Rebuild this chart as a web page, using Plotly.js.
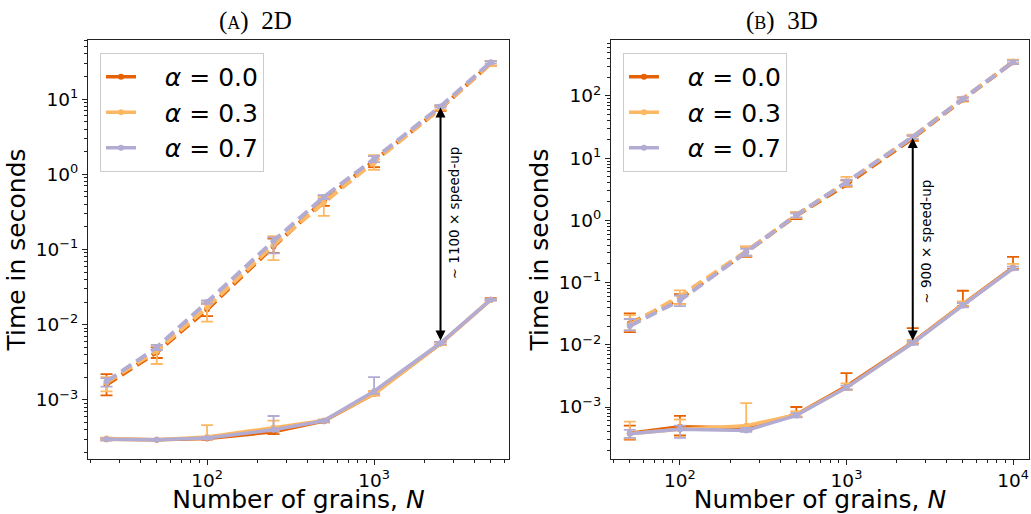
<!DOCTYPE html>
<html><head><meta charset="utf-8">
<script src="https://cdn.plot.ly/plotly-3.0.1.min.js"></script>
<style>html,body{margin:0;padding:0;background:#fff}#chart{width:1031px;height:514px}</style>
</head><body><div id="chart"></div>
<script>
// ---------- data ----------
const alphaLabels = ['0.0', '0.3', '0.7'];
const colors = ['#e66101', '#fdb863', '#b2abd2'];
const panelTitles = ['(<span style="font-size:18px">A</span>)\u00a0\u00a02D', '(<span style="font-size:18px">B</span>)\u00a0\u00a03D'];
const speedupTexts = ['∼ 1100 × speed-up', '∼ 900 × speed-up'];
const speedupN = 2500;

const N2D = [25, 50, 100, 250, 500, 1000, 2500, 5000];
const N3D = [50, 100, 250, 500, 1000, 2500, 5000, 10000];

// 2D, reference (slow, dashed) method
const slow2D_a00    = [1.6e-3, 4.3e-3, 0.016, 0.11, 0.45, 1.5, 7.5, 30];
const slow2D_a00_hi = [2.2e-3, 5.0e-3, 0.019, 0.14, 0.52, 1.75, 8.2, 32];
const slow2D_a00_lo = [1.15e-3, 3.6e-3, 0.013, 0.09, 0.38, 1.25, 7.0, 28];
const slow2D_a03    = [1.7e-3, 4.5e-3, 0.017, 0.115, 0.42, 1.45, 7.6, 30];
const slow2D_a03_hi = [2.0e-3, 5.3e-3, 0.020, 0.15, 0.50, 1.8, 8.0, 32];
const slow2D_a03_lo = [1.3e-3, 3.0e-3, 0.011, 0.072, 0.28, 1.15, 7.2, 28];
const slow2D_a07    = [1.75e-3, 5.0e-3, 0.020, 0.13, 0.50, 1.6, 8.0, 31];
const slow2D_a07_hi = [1.95e-3, 5.4e-3, 0.021, 0.145, 0.53, 1.75, 8.3, 32];
const slow2D_a07_lo = [1.5e-3, 4.6e-3, 0.019, 0.089, 0.47, 1.45, 7.7, 30];

// 2D, new (fast, solid) method
const fast2D_a00    = [3.0e-4, 2.95e-4, 3.05e-4, 3.75e-4, 5.2e-4, 1.2e-3, 5.6e-3, 0.0215];
const fast2D_a00_hi = [3.1e-4, 3.0e-4, 3.2e-4, 4.1e-4, 5.4e-4, 1.3e-3, 5.9e-3, 0.0225];
const fast2D_a00_lo = [2.9e-4, 2.9e-4, 2.95e-4, 3.5e-4, 5.0e-4, 1.15e-3, 5.4e-3, 0.021];
const fast2D_a03    = [3.05e-4, 2.95e-4, 3.2e-4, 4.3e-4, 5.3e-4, 1.2e-3, 5.6e-3, 0.0215];
const fast2D_a03_hi = [3.15e-4, 3.0e-4, 4.6e-4, 5.3e-4, 5.5e-4, 1.3e-3, 5.8e-3, 0.022];
const fast2D_a03_lo = [2.95e-4, 2.9e-4, 3.0e-4, 3.9e-4, 5.1e-4, 1.15e-3, 5.4e-3, 0.021];
const fast2D_a07    = [3.0e-4, 2.95e-4, 3.1e-4, 4.0e-4, 5.25e-4, 1.3e-3, 5.7e-3, 0.0215];
const fast2D_a07_hi = [3.1e-4, 3.0e-4, 3.2e-4, 6.1e-4, 5.4e-4, 2.0e-3, 5.9e-3, 0.022];
const fast2D_a07_lo = [2.9e-4, 2.9e-4, 3.0e-4, 3.8e-4, 5.1e-4, 1.2e-3, 5.5e-3, 0.021];

// 3D, reference (slow, dashed) method
const slow3D_a00    = [0.022, 0.055, 0.31, 1.2, 3.8, 21, 88, 350];
const slow3D_a00_hi = [0.032, 0.065, 0.38, 1.35, 4.4, 23, 95, 380];
const slow3D_a00_lo = [0.016, 0.045, 0.26, 1.05, 3.5, 19, 82, 330];
const slow3D_a03    = [0.021, 0.06, 0.32, 1.22, 4.1, 22, 90, 355];
const slow3D_a03_hi = [0.030, 0.075, 0.38, 1.35, 5.0, 24, 96, 385];
const slow3D_a03_lo = [0.017, 0.045, 0.27, 1.1, 3.6, 20, 84, 335];
const slow3D_a07    = [0.020, 0.052, 0.31, 1.22, 4.1, 22, 90, 350];
const slow3D_a07_hi = [0.026, 0.062, 0.35, 1.3, 4.5, 23, 94, 370];
const slow3D_a07_lo = [0.017, 0.042, 0.27, 1.12, 3.7, 20.5, 85, 330];

// 3D, new (fast, solid) method
const fast3D_a00    = [3.8e-4, 4.8e-4, 4.6e-4, 7.6e-4, 2.15e-3, 0.011, 0.045, 0.175];
const fast3D_a00_hi = [5.0e-4, 7.2e-4, 5.0e-4, 1.0e-3, 3.5e-3, 0.0185, 0.074, 0.26];
const fast3D_a00_lo = [3.0e-4, 3.5e-4, 4.2e-4, 7.0e-4, 1.9e-3, 0.0105, 0.042, 0.165];
const fast3D_a03    = [3.7e-4, 4.4e-4, 5.0e-4, 7.5e-4, 2.05e-3, 0.0108, 0.044, 0.17];
const fast3D_a03_hi = [5.8e-4, 6.3e-4, 1.15e-3, 8.5e-4, 2.4e-3, 0.012, 0.05, 0.20];
const fast3D_a03_lo = [3.1e-4, 3.3e-4, 4.4e-4, 7.0e-4, 1.9e-3, 0.0102, 0.041, 0.16];
const fast3D_a07    = [3.7e-4, 4.4e-4, 4.2e-4, 7.3e-4, 2.05e-3, 0.0107, 0.043, 0.17];
const fast3D_a07_hi = [4.3e-4, 5.0e-4, 4.6e-4, 8.0e-4, 2.2e-3, 0.0115, 0.047, 0.18];
const fast3D_a07_lo = [3.2e-4, 3.2e-4, 4.0e-4, 6.8e-4, 1.9e-3, 0.0101, 0.040, 0.16];

const yTickExp2D = [-3, -2, -1, 0, 1];
const yTickExp3D = [-3, -2, -1, 0, 1, 2];
const xTickExp2D = [2, 3];
const xTickExp3D = [2, 3, 4];

// ---------- build ----------
const FONT = 'DejaVu Sans, sans-serif';
function sup(e) { return '10<sup>' + (e < 0 ? '\u2212' + (-e) : e) + '</sup>'; }
function minorVals(lo, hi) { const v = []; for (let e = lo; e <= hi; e++) for (let m = 2; m <= 9; m++) v.push(m * Math.pow(10, e)); return v; }

const panels = [
  { x: N2D, xa: 'x', ya: 'y', legend: 'legend',
    slow: [[slow2D_a00, slow2D_a00_hi, slow2D_a00_lo], [slow2D_a03, slow2D_a03_hi, slow2D_a03_lo], [slow2D_a07, slow2D_a07_hi, slow2D_a07_lo]],
    fast: [[fast2D_a00, fast2D_a00_hi, fast2D_a00_lo], [fast2D_a03, fast2D_a03_hi, fast2D_a03_lo], [fast2D_a07, fast2D_a07_hi, fast2D_a07_lo]] },
  { x: N3D, xa: 'x2', ya: 'y2', legend: 'legend2',
    slow: [[slow3D_a00, slow3D_a00_hi, slow3D_a00_lo], [slow3D_a03, slow3D_a03_hi, slow3D_a03_lo], [slow3D_a07, slow3D_a07_hi, slow3D_a07_lo]],
    fast: [[fast3D_a00, fast3D_a00_hi, fast3D_a00_lo], [fast3D_a03, fast3D_a03_hi, fast3D_a03_lo], [fast3D_a07, fast3D_a07_hi, fast3D_a07_lo]] }
];

function errObj(s, c) {
  return { type: 'data', symmetric: false,
    array: s[1].map((h, i) => h - s[0][i]), arrayminus: s[2].map((l, i) => s[0][i] - l),
    color: c, thickness: 1.8, width: 6 };
}

const traces = [];
panels.forEach(p => {
  for (let a = 0; a < 3; a++) {
    traces.push({ x: p.x, y: p.slow[a][0], xaxis: p.xa, yaxis: p.ya, mode: 'lines+markers', showlegend: false,
      line: { color: colors[a], width: 4, dash: '12px,6px' }, marker: { color: colors[a], size: 6 },
      error_y: errObj(p.slow[a], colors[a]) });
    traces.push({ x: p.x, y: p.fast[a][0], xaxis: p.xa, yaxis: p.ya, mode: 'lines+markers', legend: p.legend,
      name: '\u00a0\u00a0\u00a0<i>α</i> = ' + alphaLabels[a],
      line: { color: colors[a], width: 3.5 }, marker: { color: colors[a], size: 6 },
      error_y: errObj(p.fast[a], colors[a]) });
  }
});

function axisBase() {
  return { type: 'log', showline: true, mirror: true, linecolor: '#222', linewidth: 1, ticks: 'outside',
    ticklen: 5, tickcolor: '#222', showgrid: false, zeroline: false, tickmode: 'array',
    tickfont: { family: FONT, size: 18.5, color: '#000' } };
}
const axTitleFont = { family: FONT, size: 25, color: '#000' };

const xaxis = Object.assign(axisBase(), { domain: [0, 0.4474], range: [1.287, 3.808], anchor: 'y',
  tickvals: xTickExp2D.map(e => Math.pow(10, e)), ticktext: xTickExp2D.map(sup),
  minor: { tickmode: 'array', tickvals: minorVals(1, 3), ticks: 'outside', ticklen: 3, tickcolor: '#222', showgrid: false },
  title: { text: 'Number of grains, <i>N</i>', font: axTitleFont, standoff: 10 } });
const yaxis = Object.assign(axisBase(), { domain: [0, 1], range: [-3.787, 1.787], anchor: 'x',
  tickvals: yTickExp2D.map(e => Math.pow(10, e)), ticktext: yTickExp2D.map(sup),
  minor: { tickmode: 'array', tickvals: minorVals(-4, 1), ticks: 'outside', ticklen: 3, tickcolor: '#222', showgrid: false },
  title: { text: 'Time in seconds', font: axTitleFont, standoff: 2 } });
const xaxis2 = Object.assign(axisBase(), { domain: [0.5558, 1], range: [1.586, 4.096], anchor: 'y2',
  tickvals: xTickExp3D.map(e => Math.pow(10, e)), ticktext: xTickExp3D.map(sup),
  minor: { tickmode: 'array', tickvals: minorVals(1, 4), ticks: 'outside', ticklen: 3, tickcolor: '#222', showgrid: false },
  title: { text: 'Number of grains, <i>N</i>', font: axTitleFont, standoff: 10 } });
const yaxis2 = Object.assign(axisBase(), { domain: [0, 1], range: [-3.836, 2.90], anchor: 'x2',
  tickvals: yTickExp3D.map(e => Math.pow(10, e)), ticktext: yTickExp3D.map(sup),
  minor: { tickmode: 'array', tickvals: minorVals(-4, 2), ticks: 'outside', ticklen: 3, tickcolor: '#222', showgrid: false },
  title: { text: 'Time in seconds', font: axTitleFont, standoff: 2 } });

const legendBase = { yanchor: 'top', xanchor: 'left', y: 0.969, bgcolor: 'rgba(255,255,255,0.85)',
  bordercolor: '#cccccc', borderwidth: 1, font: { family: FONT, size: 25, color: '#000' } };

const annotations = [];
panels.forEach((p, k) => {
  const i = p.x.indexOf(speedupN);
  const top = p.slow[2][0][i], bot = p.fast[2][0][i];
  const lx = Math.log10(p.x[i]);
  annotations.push({ xref: p.xa, yref: p.ya, axref: p.xa, ayref: p.ya, x: lx, y: Math.log10(top),
    ax: lx, ay: Math.log10(bot), text: '', showarrow: true, arrowhead: 2, startarrowhead: 2,
    arrowside: 'end+start', arrowwidth: 2, arrowsize: 1, arrowcolor: '#000', standoff: 1, startstandoff: 1 });
  annotations.push({ xref: p.xa, yref: p.ya, x: lx, y: (Math.log10(top) + Math.log10(bot)) / 2,
    xshift: 13, yshift: k === 0 ? 12 : -2, text: speedupTexts[k], textangle: -90, showarrow: false,
    font: { family: FONT, size: 13.5, color: '#000' } });
});
annotations.push({ xref: 'paper', yref: 'paper', x: 0.1785, y: 1.0455, xanchor: 'center', yanchor: 'middle', text: panelTitles[0], showarrow: false,
  font: { family: 'Liberation Serif, serif', size: 25, color: '#000' } });
annotations.push({ xref: 'paper', yref: 'paper', x: 0.7375, y: 1.0455, xanchor: 'center', yanchor: 'middle', text: panelTitles[1], showarrow: false,
  font: { family: 'Liberation Serif, serif', size: 25, color: '#000' } });

const layout = {
  width: 1031, height: 514, margin: { l: 88, r: 2, t: 40, b: 55 },
  paper_bgcolor: '#fff', plot_bgcolor: '#fff', font: { family: FONT, color: '#000' },
  xaxis, yaxis, xaxis2, yaxis2,
  legend: Object.assign({}, legendBase, { x: 0.01275 }),
  legend2: Object.assign({}, legendBase, { x: 0.5685 }),
  annotations
};

Plotly.newPlot('chart', traces, layout, { staticPlot: true, displayModeBar: false });
</script>
</body></html>
